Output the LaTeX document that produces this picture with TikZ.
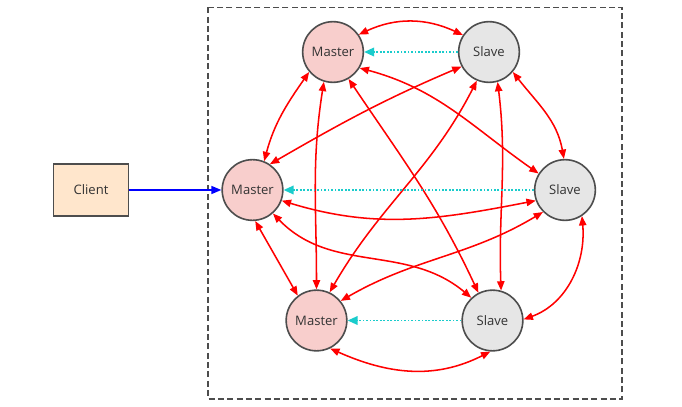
\documentclass[tikz,border=0pt]{standalone}
\usepackage{fontspec}
\setmainfont{Open Sans}
\usetikzlibrary{arrows.meta}
\definecolor{mfill}{HTML}{F8CECC}
\definecolor{sfill}{HTML}{E6E6E6}
\definecolor{cfill}{HTML}{FFE6CC}
\definecolor{bord}{HTML}{4D4D4D}
\definecolor{txt}{HTML}{333333}
\definecolor{cyanl}{HTML}{1ACCCC}
\tikzset{
  master/.style={circle,draw=bord,fill=mfill,line width=1.2pt,minimum size=45.5pt,inner sep=0pt,font=\fontsize{9.8}{12}\selectfont,text=txt},
  slave/.style={master,fill=sfill},
  client/.style={rectangle,draw=bord,fill=cfill,line width=1.2pt,minimum width=56pt,minimum height=39pt,inner sep=0pt,font=\fontsize{9.8}{12}\selectfont,text=txt},
  link/.style={draw=red,line width=1.15pt,{Triangle[length=7pt,width=5.5pt]}-{Triangle[length=7pt,width=5.5pt]}},
  repl/.style={draw=cyanl,line width=1.15pt,dash pattern=on 1.3pt off 1.3pt,-{Triangle[length=7.5pt,width=6.5pt]}},
  req/.style={draw=blue,line width=1.15pt,-{Triangle[length=7.5pt,width=6pt]}},
  frame/.style={draw=bord,line width=1.15pt,dash pattern=on 4.5pt off 2.5pt}
}
\begin{document}
\begin{tikzpicture}[x=0.75pt,y=0.75pt]
\useasboundingbox (0,0) rectangle (682,407);
\draw[frame] (208,399.5) rectangle (622,8);
\node[master] (M1) at (333,355) {Master};
\node[slave]  (S1) at (489,355) {Slave};
\node[master] (M2) at (252.5,217) {Master};
\node[slave]  (S2) at (565,217) {Slave};
\node[master] (M3) at (316.5,86.5) {Master};
\node[slave]  (S3) at (492.5,86.5) {Slave};
\node[client] (C) at (91,217) {Client};
% red links
\draw[link] (M1.34) to[out=25,in=155] (S1.147);
\draw[link] (M1.220) to[out=235,in=75] (M2.68);
\draw[link] (M1.-107) to[out=261,in=90] (M3.90);
\draw[link] (M1.-60) to[out=-56,in=115] (S3.117);
\draw[link] (M1.-31) to[out=-15,in=145] (S2.148);
\draw[link] (S1.208) to[out=203,in=30] (M2.56);
\draw[link] (S1.247) to[out=243,in=60] (M3.65);
\draw[link] (S1.-74) to[out=-83,in=92] (S3.74);
\draw[link] (S1.-40) to[out=-52,in=100] (S2.92);
\draw[link] (M2.-85) -- (M3.127);
\draw[link] (M2.-20) to[out=-17,in=191] (S2.200);
\draw[link] (M2.-49) to[out=-46,in=140] (S3.133);
\draw[link] (S2.225) to[out=211,in=30] (M3.39);
\draw[link] (S2.-57) to[out=-85,in=20] (S3.2);
\draw[link] (M3.-64) to[out=-24,in=207] (S3.266);
% replication
\draw[repl] (S1.west) -- (M1.east);
\draw[repl] (S2.west) -- (M2.east);
\draw[repl] (S3.west) -- (M3.east);
% client
\draw[req] (C.east) -- (M2.west);
\end{tikzpicture}
\end{document}
